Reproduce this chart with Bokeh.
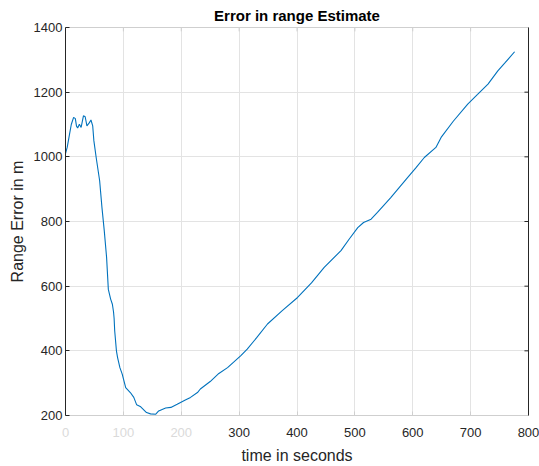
from bokeh.plotting import figure
from bokeh.models import LinearAxis, Range1d, FixedTicker, Grid
from bokeh.embed import file_html
from bokeh.resources import INLINE

# time (s) and range error (m)
time_s = [0, 3, 7, 10, 14, 17, 19, 21, 24, 27, 31, 34, 37, 41, 44, 47, 49, 53, 59, 63,
          67, 71, 74, 78, 81, 83, 84, 85, 88, 90, 94, 98, 104, 112, 118, 123, 130, 140,
          147, 156, 161, 173, 182, 193, 207, 216, 228, 233, 250, 265, 280, 303, 314, 330,
          349, 375, 401, 425, 447, 476, 490, 505, 515, 528, 539, 562, 591, 605, 620, 640,
          649, 670, 695, 712, 730, 747, 760, 776]
range_err = [1010, 1030, 1070, 1100, 1122, 1118, 1095, 1089, 1101, 1091, 1127, 1124, 1096,
             1105, 1114, 1096, 1050, 998, 926, 843, 771, 689, 590, 560, 544, 520, 500, 462,
             400, 379, 348, 328, 286, 271, 256, 233, 227, 209, 205, 204, 214, 223, 225, 235,
             248, 256, 271, 282, 305, 330, 348, 385, 405, 440, 483, 525, 565, 610, 658, 710,
             745, 781, 797, 807, 828, 874, 936, 965, 998, 1029, 1060, 1110, 1163, 1193, 1225,
             1266, 1292, 1325]

x_ticks = [0, 100, 200, 300, 400, 500, 600, 700, 800]
faded_x_ticks = [0, 100, 200]
y_ticks = [200, 400, 600, 800, 1000, 1200, 1400]

title_text = "Error in range Estimate"
x_label = "time in seconds"
y_label = "Range Error in m"

FONT = "Liberation Sans"
DARK = "#262626"
LIGHT_AX = "#cfcfcf"
FADED = "#dadada"

X0, X1, Y0, Y1 = 0, 800, 200, 1400

p = figure(width=539, height=466, output_backend="svg", toolbar_location=None,
           x_range=Range1d(X0, X1), y_range=Range1d(Y0, Y1),
           min_border_left=65, min_border_right=11, min_border_top=27, min_border_bottom=51,
           x_axis_type=None, y_axis_type=None)
p.outline_line_color = None
p.background_fill_color = "white"
p.border_fill_color = "white"

p.title.text = title_text
p.title.align = "center"
p.title.text_font = FONT
p.title.text_font_size = "15px"
p.title.text_font_style = "bold"
p.title.text_color = "#000000"
p.title.standoff = 8

def style_axis(ax, line_color=DARK):
    ax.axis_line_color = line_color
    ax.major_tick_line_color = line_color
    ax.major_tick_in = 4
    ax.major_tick_out = 0
    ax.minor_tick_line_color = None
    ax.major_label_text_font = FONT
    ax.major_label_text_font_size = "13px"
    ax.major_label_text_color = DARK
    ax.axis_label_text_font = FONT
    ax.axis_label_text_font_size = "16px"
    ax.axis_label_text_font_style = "normal"
    ax.axis_label_text_color = DARK

# main bottom axis: line, ticks and dark labels
xb = LinearAxis(ticker=FixedTicker(ticks=x_ticks))
style_axis(xb, line_color=LIGHT_AX)
xb.major_label_standoff = 9
xb.major_label_overrides = {t: " " for t in faded_x_ticks}
p.add_layout(xb, "below")

# second bottom axis: faded labels pulled up into the same row, plus axis title
xf = LinearAxis(ticker=FixedTicker(ticks=faded_x_ticks), axis_label=x_label)
style_axis(xf, line_color=None)
xf.major_tick_line_color = None
xf.major_tick_in = 0
xf.major_label_text_color = FADED
xf.major_label_standoff = -15
xf.axis_label_standoff = 7
p.add_layout(xf, "below")

yl = LinearAxis(ticker=FixedTicker(ticks=y_ticks), axis_label=y_label)
style_axis(yl)
yl.major_label_standoff = 3
yl.axis_label_standoff = 5
p.add_layout(yl, "left")

# box lines on top and right (no labels, no extra space)
xt = LinearAxis(ticker=FixedTicker(ticks=[]))
style_axis(xt, line_color=LIGHT_AX)
xt.major_label_standoff = 0
xt.axis_label_standoff = 0
p.add_layout(xt, "above")
yr = LinearAxis(ticker=FixedTicker(ticks=[]))
style_axis(yr)
yr.major_label_standoff = 0
yr.axis_label_standoff = 0
p.add_layout(yr, "right")

# inward tick marks on top and right edges
p.segment(x0=x_ticks, y0=[Y1] * len(x_ticks), x1=x_ticks, y1=[Y1 - 12] * len(x_ticks),
          line_color=LIGHT_AX, line_width=1)
p.segment(x0=[X1] * len(y_ticks), y0=y_ticks, x1=[X1 - 7] * len(y_ticks), y1=y_ticks,
          line_color=DARK, line_width=1)

p.add_layout(Grid(dimension=0, ticker=FixedTicker(ticks=x_ticks), grid_line_color="#e3e3e3"))
p.add_layout(Grid(dimension=1, ticker=FixedTicker(ticks=y_ticks), grid_line_color="#e3e3e3"))

p.line(time_s, range_err, line_color="#0072BD", line_width=1.1)

open("out.html", "w").write(file_html(p, INLINE))
